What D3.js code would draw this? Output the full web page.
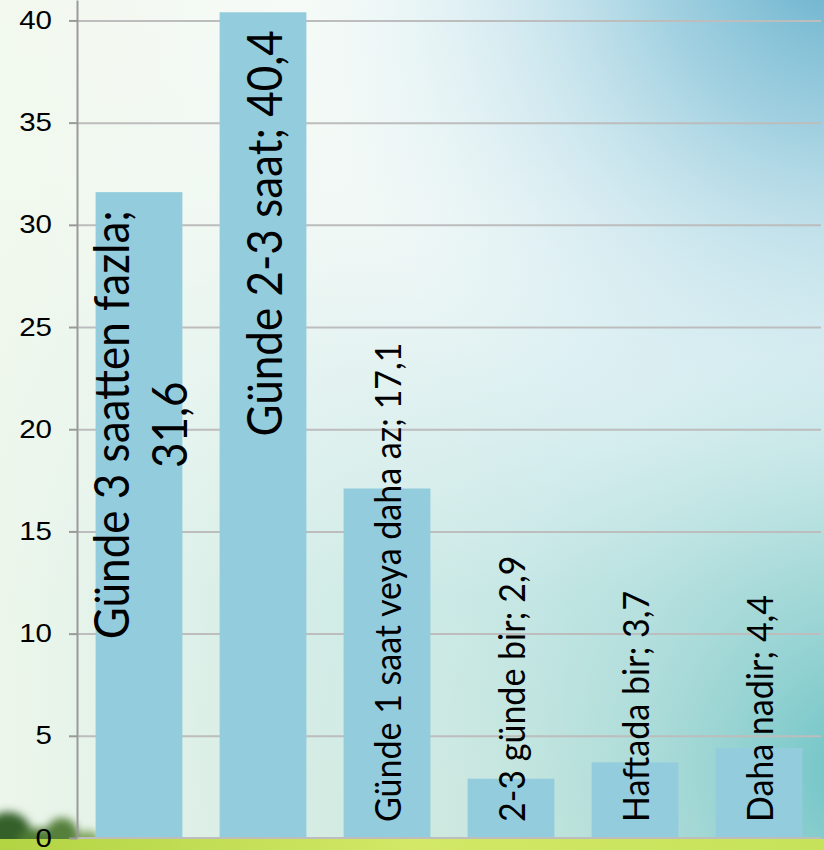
<!DOCTYPE html>
<html>
<head>
<meta charset="utf-8">
<script src="https://cdn.jsdelivr.net/npm/d3@7"></script>
<style>
  body { margin: 0; overflow: hidden; background: #fff; }
  svg { display: block; }
</style>
</head>
<body>
<div id="chart-area"></div>
<script>
const WIDTH = 824;
const HEIGHT = 850;

// data
const categories = ["Günde 3 saatten fazla", "Günde 2-3 saat", "Günde 1 saat veya daha az", "2-3 günde bir", "Haftada bir", "Daha nadir"];
const values = [31.6, 40.4, 17.1, 2.9, 3.7, 4.4];
const valueLabels = ["31,6", "40,4", "17,1", "2,9", "3,7", "4,4"];
const yTicks = [0, 5, 10, 15, 20, 25, 30, 35, 40];

const svg = d3.select("#chart-area").append("svg")
  .attr("width", WIDTH)
  .attr("height", HEIGHT);

// background (sky + grass)
const defs = svg.append("defs");

const addStops = (grad, stops) => stops.forEach(([o, c, a]) =>
  grad.append("stop").attr("offset", o).attr("stop-color", c).attr("stop-opacity", a));

addStops(defs.append("linearGradient").attr("id", "sky")
  .attr("x1", 0).attr("y1", 0).attr("x2", 0).attr("y2", 1), [
  ["0%", "#fbfdfd", 1],
  ["25%", "#f3f9f9", 1],
  ["45%", "#ddf0f2", 1],
  ["70%", "#c3e6e4", 1],
  ["100%", "#c6e5dc", 1]
]);

addStops(defs.append("linearGradient").attr("id", "leftPale")
  .attr("x1", 0).attr("y1", 0).attr("x2", 1).attr("y2", 0), [
  ["0%", "#f1f8ec", 0.9],
  ["40%", "#eef7ee", 0.35],
  ["70%", "#eef7ee", 0]
]);

addStops(defs.append("radialGradient").attr("id", "topBlue")
  .attr("gradientUnits", "userSpaceOnUse")
  .attr("cx", 850).attr("cy", -60).attr("r", 560), [
  ["0%", "#5aaac8", 1],
  ["35%", "#8cc6da", 0.8],
  ["100%", "#d6eef4", 0]
]);

addStops(defs.append("radialGradient").attr("id", "lowTeal")
  .attr("gradientUnits", "userSpaceOnUse")
  .attr("cx", 870).attr("cy", 770).attr("r", 430), [
  ["0%", "#66c0c4", 1],
  ["45%", "#8fd0d0", 0.6],
  ["100%", "#bfe4e2", 0]
]);

addStops(defs.append("linearGradient").attr("id", "grass")
  .attr("x1", 0).attr("y1", 0).attr("x2", 1).attr("y2", 0), [
  ["0%", "#b2d443", 1],
  ["50%", "#d2e866", 1],
  ["100%", "#c6e25a", 1]
]);

defs.append("filter").attr("id", "blur")
  .attr("x", "-50%").attr("y", "-50%").attr("width", "200%").attr("height", "200%")
  .append("feGaussianBlur").attr("stdDeviation", 4);

["sky", "leftPale", "topBlue", "lowTeal"].forEach(id =>
  svg.append("rect").attr("width", WIDTH).attr("height", HEIGHT).attr("fill", `url(#${id})`));

// trees at bottom left
const trees = svg.append("g").attr("filter", "url(#blur)");
trees.append("ellipse").attr("cx", 8).attr("cy", 836).attr("rx", 24).attr("ry", 24).attr("fill", "#35602a");
trees.append("ellipse").attr("cx", 40).attr("cy", 842).attr("rx", 22).attr("ry", 14).attr("fill", "#4f7c35");
trees.append("ellipse").attr("cx", 62).attr("cy", 834).attr("rx", 16).attr("ry", 16).attr("fill", "#557f3a");
trees.append("ellipse").attr("cx", 88).attr("cy", 840).attr("rx", 12).attr("ry", 9).attr("fill", "#7aa257");

svg.append("rect")
  .attr("x", 0).attr("y", 839).attr("width", WIDTH).attr("height", HEIGHT - 839)
  .attr("fill", "url(#grass)");

// scales
const x = d3.scaleBand()
  .domain(categories)
  .range([77, 821])
  .paddingInner(0.3)
  .paddingOuter(0.15);

const y = d3.scaleLinear()
  .domain([0, 41])
  .range([838, 0]);

// gridlines
svg.append("g")
  .attr("class", "grid")
  .attr("transform", "translate(77,0)")
  .call(d3.axisLeft(y).tickValues(yTicks.slice(1)).tickSize(-(821 - 77)).tickFormat(""))
  .call(g => g.select(".domain").remove())
  .call(g => g.selectAll("line").attr("stroke", "#bdbdbd").attr("stroke-width", 2));

// bars
svg.selectAll("rect.bar")
  .data(values)
  .enter().append("rect")
    .attr("class", "bar")
    .attr("x", (d, i) => x(categories[i]))
    .attr("y", d => y(d))
    .attr("width", x.bandwidth())
    .attr("height", d => y(0) - y(d))
    .attr("fill", "#93cddd");

// x baseline
svg.append("line")
  .attr("x1", 77).attr("x2", 821)
  .attr("y1", y(0)).attr("y2", y(0))
  .attr("stroke", "#bdbdbd").attr("stroke-width", 2);

// y axis
const tickStretch = 1.18;
svg.append("g")
  .attr("transform", "translate(77,0)")
  .call(d3.axisLeft(y).tickValues(yTicks).tickSizeInner(8).tickSizeOuter(0))
  .call(g => g.select(".domain").attr("stroke", "#9a9a9a").attr("stroke-width", 2))
  .call(g => g.selectAll(".tick line").attr("stroke", "#9a9a9a").attr("stroke-width", 2))
  .call(g => g.selectAll(".tick text")
    .attr("x", 0)
    .attr("transform", `translate(-25,0) scale(${tickStretch},1)`)
    .attr("fill", "#000")
    .style("font-family", "'Liberation Sans', Arial, sans-serif")
    .style("font-size", "25px"));

// data labels (rotated, inside the bars)
const bigFont = 44;
const smallFont = 34;
const labelStretch = 1.1;
const labelFont = "Lato, 'Open Sans', sans-serif";

values.forEach((v, i) => {
  const cx = x(categories[i]) + x.bandwidth() / 2;
  const big = v > 25;
  const full = `${categories[i]}; ${valueLabels[i]}`;

  if (!big) {
    svg.append("g")
      .attr("transform", `translate(${cx},${y(0) - 16}) rotate(-90) scale(1,${labelStretch})`)
      .append("text")
        .attr("text-anchor", "start")
        .attr("dominant-baseline", "central")
        .style("font-family", labelFont)
        .style("font-size", smallFont + "px")
        .attr("fill", "#000")
        .text(full);
    return;
  }

  const g = svg.append("g")
    .attr("transform", `translate(${cx},${y(v) + 18}) rotate(-90) scale(1,${labelStretch})`);
  const t = g.append("text")
    .attr("text-anchor", "end")
    .attr("dominant-baseline", "central")
    .style("font-family", labelFont)
    .style("font-size", bigFont + "px")
    .attr("fill", "#000")
    .text(full);

  // wrap value onto a second line when the label takes most of the bar
  const barLen = y(0) - y(v);
  if (t.node().getComputedTextLength() > 0.75 * barLen) {
    t.text(categories[i] + ";");
    const len1 = t.node().getComputedTextLength();
    const gap = bigFont * 1.2;
    t.attr("y", -gap / 2);
    g.append("text")
      .attr("x", -len1 / 2)
      .attr("y", gap / 2)
      .attr("text-anchor", "middle")
      .attr("dominant-baseline", "central")
      .style("font-family", labelFont)
      .style("font-size", bigFont + "px")
      .attr("fill", "#000")
      .text(valueLabels[i]);
  }
});
</script>
</body>
</html>
